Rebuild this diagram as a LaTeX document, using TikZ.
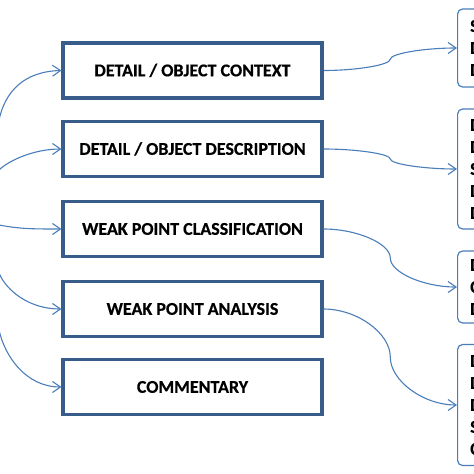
\documentclass[tikz,border=0pt]{standalone}
\usepackage{fontspec}
\setmainfont{Carlito}[BoldFeatures={FakeBold=0.5}]
\usetikzlibrary{arrows.meta,calc}
\definecolor{boxblue}{HTML}{385D8A}
\definecolor{linkblue}{HTML}{4A7EBB}
\begin{document}
\begin{tikzpicture}[x=1pt,y=-1pt,
  mainbox/.style={draw=boxblue,line width=3.1pt,minimum width=259pt,minimum height=55pt,
    inner sep=0pt,font=\fontsize{18}{21.6}\selectfont\bfseries,text height=11.6pt,text depth=0pt},
  sidebox/.style={draw=linkblue,line width=1.2pt,rounded corners=5pt,minimum width=80pt,anchor=west,inner sep=0pt},
  sidetext/.style={anchor=west,align=left,inner sep=0pt,font=\fontsize{18}{22}\selectfont\bfseries},
  conn/.style={draw=linkblue,line width=1.1pt,-{Straight Barb[length=8pt,width=11pt]}}]
\clip (0,0) rectangle (474,474);
\fill[white] (0,0) rectangle (474,474);

\node[mainbox] (b1) at (192.5,70.5) {DETAIL / OBJECT CONTEXT};
\node[mainbox] (b2) at (192.5,149) {DETAIL / OBJECT DESCRIPTION};
\node[mainbox] (b3) at (192.5,229) {WEAK POINT CLASSIFICATION};
\node[mainbox] (b4) at (192.5,309) {WEAK POINT ANALYSIS};
\node[mainbox] (b5) at (192.5,387) {COMMENTARY};

\node[sidebox,minimum height=78pt] (r1) at (457,48) {};
\node[sidebox,minimum height=120pt] (r2) at (457,169) {};
\node[sidebox,minimum height=72pt] (r3) at (457,287) {};
\node[sidebox,minimum height=121pt] (r4) at (457,405) {};

\node[sidetext] (t1) at (470,48) {S\\D\\D};
\node[sidetext] (t2) at (470,169) {D\\D\\S\\D\\D};
\node[sidetext] (t3) at (470,287) {D\\C\\D};
\node[sidetext] (t4) at (470,405) {D\\D\\D\\S\\C};

\coordinate (l1) at (-1,120);
\coordinate (l2) at (-1,170);
\coordinate (l3) at (-1,225);
\coordinate (l4) at (-1,273);
\coordinate (l5) at (-1,330);

\draw[conn] (l1) .. controls +(6,-28) and +(-38,1) .. (b1.west);
\draw[conn] (l2) .. controls +(9,-9) and +(-28,0) .. (b2.west);
\draw[conn] (l3) .. controls +(21,4) and +(-28,0) .. (b3.west);
\draw[conn] (l4) .. controls +(7,17) and +(-33,0) .. (b4.west);
\draw[conn] (l5) .. controls +(6,27) and +(-35,0) .. (b5.west);

\foreach \a/\b in {b1/r1,b2/r2,b3/r3,b4/r4}{
  \draw[conn] let \p1=(\a.east), \p2=(\b.west) in
    (\p1) .. controls ({(3*\x1+\x2)/4},{\y1}) and ({(\x1+\x2)/2},{(3*\y1+\y2)/4}) ..
    ({(\x1+\x2)/2},{(\y1+\y2)/2}) .. controls ({(\x1+\x2)/2},{(\y1+3*\y2)/4}) and ({(\x1+3*\x2)/4},{\y2}) .. (\p2);
}
\end{tikzpicture}
\end{document}
